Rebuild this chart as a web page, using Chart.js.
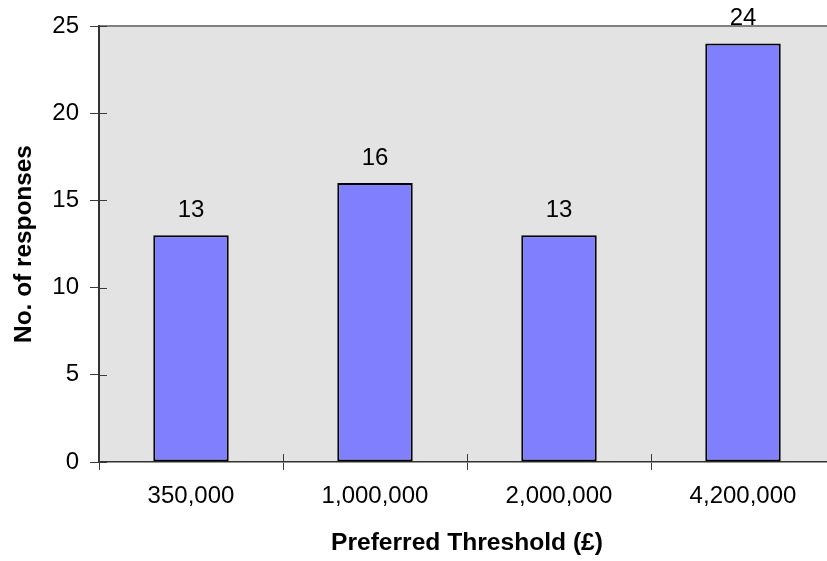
<!DOCTYPE html>
<html>
<head>
<meta charset="utf-8">
<script src="https://cdn.jsdelivr.net/npm/chart.js@4/dist/chart.umd.min.js"></script>
<style>
  html, body { margin: 0; padding: 0; background: #fff; overflow: hidden; width: 827px; height: 561px; }
  #wrap { position: absolute; left: 0; top: 0; }
</style>
</head>
<body>
<div id="wrap"><canvas id="c" width="836" height="561"></canvas></div>
<script>
const categories = ['350,000', '1,000,000', '2,000,000', '4,200,000'];
const responses = [13, 16, 13, 24];
const yTicks = [0, 5, 10, 15, 20, 25];

const FONT = 'Liberation Sans, Arial, sans-serif';
const TICK_COLOR = '#3a3a3a';

// Grey plot background with a thin grey frame line along the top
const plotBackground = {
  id: 'plotBackground',
  beforeDraw(chart) {
    const { ctx, chartArea: a } = chart;
    ctx.save();
    ctx.fillStyle = '#E3E3E3';
    ctx.fillRect(a.left, a.top, a.right - a.left, a.bottom - a.top);
    ctx.strokeStyle = '#808080';
    ctx.lineWidth = 2;
    ctx.beginPath();
    ctx.moveTo(a.left, a.top);
    ctx.lineTo(a.right + 2, a.top);
    ctx.stroke();
    ctx.restore();
  }
};

// Tick marks that cross into the plot, plus value labels above bars
const extras = {
  id: 'extras',
  afterDraw(chart) {
    const { ctx, chartArea: a } = chart;
    const x = chart.scales.x;
    const y = chart.scales.y;
    const step = x.getPixelForTick(1) - x.getPixelForTick(0);
    ctx.save();
    ctx.strokeStyle = TICK_COLOR;
    ctx.lineWidth = 1;
    ctx.beginPath();
    for (let i = 0; i <= categories.length; i++) {
      const px = Math.round(x.getPixelForValue(i) - step / 2) + 0.5;
      ctx.moveTo(px, a.bottom - 8);
      ctx.lineTo(px, a.bottom);
    }
    yTicks.forEach(v => {
      const py = Math.round(y.getPixelForValue(v)) + 0.5;
      ctx.moveTo(a.left, py);
      ctx.lineTo(a.left + 8, py);
    });
    ctx.stroke();

    const meta = chart.getDatasetMeta(0);
    ctx.fillStyle = '#000';
    ctx.font = '24px ' + FONT;
    ctx.textAlign = 'center';
    ctx.textBaseline = 'alphabetic';
    meta.data.forEach((bar, i) => {
      ctx.fillText(String(responses[i]), bar.x, bar.y - 18);
    });
    ctx.restore();
  }
};

new Chart(document.getElementById('c'), {
  type: 'bar',
  data: {
    labels: categories,
    datasets: [{
      data: responses,
      backgroundColor: '#8080FF',
      borderColor: '#000',
      borderWidth: 2,
      borderSkipped: false,
      categoryPercentage: 1,
      barPercentage: 0.41
    }]
  },
  options: {
    responsive: false,
    animation: false,
    events: [],
    layout: { padding: { top: 26, right: 1, left: 0, bottom: 0 } },
    plugins: { legend: { display: false }, tooltip: { enabled: false } },
    scales: {
      x: {
        offset: true,
        grid: { drawOnChartArea: false, tickLength: 8, color: TICK_COLOR },
        border: { display: true, color: '#333', width: 1.5 },
        ticks: { color: '#000', font: { family: FONT, size: 24 }, padding: 12, maxRotation: 0 },
        title: {
          display: true,
          text: 'Preferred Threshold (£)',
          color: '#000',
          font: { family: FONT, size: 24.6, weight: 'bold' },
          padding: { top: 0, bottom: 3 }
        },
        afterFit(s) { s.height = 99; }
      },
      y: {
        min: 0,
        max: 25,
        afterBuildTicks(s) { s.ticks = yTicks.map(v => ({ value: v })); },
        grid: { drawOnChartArea: false, tickLength: 9, color: TICK_COLOR },
        border: { display: true, color: '#333', width: 2 },
        ticks: { color: '#000', font: { family: FONT, size: 24 }, padding: 11 },
        title: {
          display: true,
          text: 'No. of responses',
          color: '#000',
          font: { family: FONT, size: 24.4, weight: 'bold' },
          padding: { top: 10, bottom: 0 }
        },
        afterFit(s) { s.width = 99; }
      }
    }
  },
  plugins: [plotBackground, extras]
});
</script>
</body>
</html>
